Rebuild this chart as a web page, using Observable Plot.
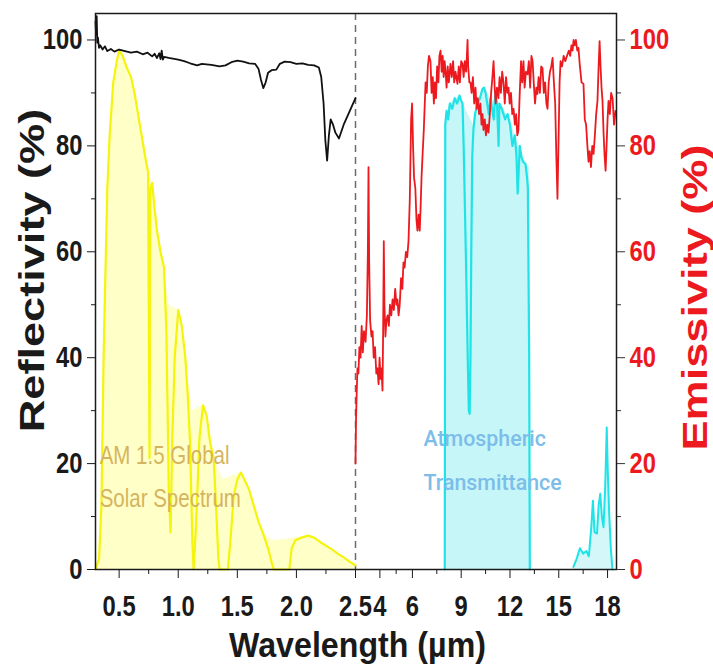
<!DOCTYPE html>
<html><head><meta charset="utf-8">
<script src="https://cdn.jsdelivr.net/npm/d3@7"></script>
<script src="https://cdn.jsdelivr.net/npm/@observablehq/plot@0.6"></script>
<style>html,body{margin:0;padding:0;background:#fff;} svg{display:block;}</style>
</head><body><div id="chart"></div>
<script>
// Reflectivity (black), 0.3–2.5 µm
const reflLambda = [0.30,0.305,0.31,0.315,0.32,0.33,0.34,0.36,0.38,0.40,0.43,0.46,0.50,0.55,0.60,0.65,0.70,0.74,0.78,0.80,0.82,0.84,0.85,0.86,0.87,0.88,0.92,1.00,1.05,1.10,1.16,1.20,1.28,1.35,1.40,1.45,1.50,1.55,1.60,1.65,1.68,1.70,1.72,1.74,1.76,1.79,1.83,1.86,1.90,1.95,2.00,2.05,2.10,2.15,2.19,2.21,2.23,2.245,2.26,2.275,2.29,2.31,2.33,2.36,2.40,2.45,2.50];
const reflValue  = [103.5,101,104.5,99.5,100.5,98.5,99,98.2,98.8,97.9,98.3,97.8,98.2,97.9,97.6,97.8,97.3,97.6,96.9,97.4,96.6,97.5,96.4,98.0,96.3,96.8,96.6,96.3,96.0,95.6,95.2,95.5,95.3,95.0,95.2,95.8,96.1,95.9,95.6,95.5,94.5,92.5,90.9,92.0,93.8,94.3,94.4,95.5,95.9,95.8,95.5,95.6,95.3,95.2,94.8,93.0,88.0,81.0,77.2,82.0,85.0,84.0,82.5,81.4,84.0,86.5,89.0];

// AM 1.5 global solar spectrum (normalised, %), 0.3–2.5 µm
const solarLambda = [0.30,0.33,0.35,0.37,0.40,0.42,0.45,0.48,0.50,0.53,0.56,0.60,0.63,0.66,0.69,0.72,0.745,0.757,0.765,0.78,0.80,0.82,0.85,0.88,0.90,0.92,0.935,0.95,0.97,1.00,1.03,1.06,1.08,1.10,1.12,1.13,1.15,1.18,1.21,1.24,1.27,1.30,1.32,1.34,1.35,1.42,1.44,1.47,1.50,1.53,1.56,1.60,1.64,1.68,1.72,1.76,1.80,1.81,1.94,1.96,1.99,2.04,2.10,2.15,2.20,2.25,2.30,2.35,2.40,2.45,2.50];
const solarValue  = [0,2,12,42,72,82,92,96,98,97,95,93,90,86,82,78,75,21,72,73,68,64,60,57,45,15,7,25,40,49,46,40,33,24,5,0,8,25,31,29,24,21,12,2,0,0,5,14,17,18.3,17,15,12,9,6.7,4,0.5,0,0,4,5.5,6,6.4,6,5.2,4.5,3.8,3,2.3,1.5,0.8];
// pale fill beneath the spectrum envelope
const solarFillLambda = [0.30,0.33,0.35,0.37,0.40,0.45,0.50,0.56,0.63,0.72,0.78,0.82,0.88,0.92,1.00,1.06,1.12,1.21,1.30,1.38,1.53,1.64,1.72,1.80,1.95,2.10,2.30,2.50];
const solarFillValue  = [0,2,12,42,72,92,98,95,90,78,73,64,57,50,49,40,30,31,21,17,18.3,12,6.7,5.5,5.8,6.4,3.8,0.8];

// Emissivity (red), 2.5–18.5 µm
const emisLambda = [2.50,2.53,2.57,2.62,2.68,2.74,2.81,2.88,2.95,3.02,3.12,3.20,3.26,3.30,3.34,3.40,3.48,3.55,3.62,3.70,3.78,3.85,3.92,3.98,4.04,4.10,4.16,4.20,4.24,4.28,4.34,4.40,4.47,4.55,4.62,4.70,4.78,4.86,4.94,5.02,5.08,5.15,5.22,5.30,5.38,5.45,5.52,5.60,5.68,5.76,5.84,5.92,5.98,6.04,6.10,6.18,6.25,6.31,6.38,6.45,6.50,6.56,6.62,6.70,6.76,6.81,6.88,6.95,7.02,7.11,7.18,7.25,7.32,7.38,7.45,7.52,7.60,7.66,7.73,7.80,7.86,7.92,7.98,8.04,8.10,8.17,8.24,8.34,8.42,8.50,8.57,8.65,8.77,8.85,8.92,9.00,9.08,9.15,9.22,9.30,9.35,9.39,9.43,9.50,9.57,9.64,9.72,9.80,9.88,9.95,10.02,10.10,10.18,10.25,10.31,10.37,10.45,10.52,10.60,10.68,10.76,10.84,10.92,10.99,11.06,11.12,11.20,11.29,11.36,11.44,11.52,11.60,11.68,11.76,11.84,11.91,11.98,12.06,12.14,12.22,12.30,12.38,12.45,12.52,12.60,12.68,12.75,12.83,12.90,12.98,13.08,13.16,13.24,13.32,13.39,13.46,13.54,13.62,13.69,13.76,13.84,13.92,14.00,14.08,14.16,14.24,14.31,14.38,14.46,14.54,14.62,14.70,14.78,14.85,14.92,14.98,15.05,15.11,15.20,15.30,15.40,15.54,15.62,15.70,15.78,15.85,15.91,15.98,16.05,16.14,16.21,16.30,16.40,16.52,16.60,16.68,16.76,16.83,16.90,16.98,17.06,17.14,17.22,17.30,17.38,17.45,17.51,17.57,17.63,17.69,17.76,17.82,17.88,17.94,18.00,18.06,18.14,18.22,18.31,18.40,18.49];
const emisValue  = [20,28,33,38,37,42,40,46,41,45,43,48,60,76,58,47,44,45,40,42,37,38,35,40,36,38,33.8,45,62,50,44,47,48,46,50,48,51,49,53,50,51,48,50,55,53,58,57,60,59,62,70,85,88,80,74,72,66,64,67,64,68,74,78,83,88,92,90,95,97,96,90,93,88,92,89,95,92,97,98,94,97,93,96,94,91,95,92,95.5,93,96,92,94,91.7,95,92,96,95.5,93,96,94,97,100,95,92,92,90,93,88,91,87,89,86,88,84,86,83,85,82,84,82.5,86,90,93,96,91,88,91,89,93,90,94,92,88,93,90,91,88,90,86,87,84,86,82,83,90,96,92,96,91,94,93.5,96,91,97,96,92,88,91,89.8,93,90,95,94.7,90,92,88,87,92,94,95,96.6,92,88,78,70,80,92,96,95,97,96,97.3,98,97,99,98,100,99,100,98,98.5,95,92,91.7,85,84,80,77,79,76,80,78.5,82,86,88.5,95,99.8,95,91,88.5,82,78,75.3,80,85,88.5,86,90,89,84,86.6];

// Atmospheric transmittance (cyan): 8–13 µm window and 16–18 µm band
const atmWindowLambda = [7.99,8.02,8.10,8.20,8.30,8.45,8.60,8.75,8.90,9.00,9.08,9.15,9.25,9.32,9.40,9.47,9.52,9.57,9.62,9.68,9.75,9.85,10.0,10.15,10.3,10.4,10.5,10.6,10.7,10.8,10.9,11.0,11.1,11.2,11.3,11.35,11.5,11.7,11.85,12.0,12.15,12.3,12.4,12.47,12.52,12.6,12.7,12.8,12.95,13.05,13.1,13.18,13.22];
const atmWindowValue  = [0,84,86.6,85,88,87,89,88,89.5,88.5,88,80,65,54,40,30,29.4,40,60,78,83,86,88,89,90.7,91,90,88,86,89,87,85,90,88,80,88,87,85,86,84,80,82,78,71,74,80,78,77,76.6,74,72,40,0];
const atmFillLambda = [7.99,8.02,8.30,8.90,9.08,9.40,9.75,10.0,10.4,10.8,11.5,12.0,12.4,12.8,13.1,13.21,13.22];
const atmFillValue  = [0,85,88,89.5,88.5,86,84,88,91,89,87.5,85,81,78,76,76,0];
const atmFarLambda = [15.9,16.1,16.3,16.5,16.7,16.85,17.0,17.1,17.2,17.35,17.45,17.55,17.65,17.75,17.85,17.95,18.02,18.1,18.2,18.3];
const atmFarValue  = [0.5,2,4,3,3.5,2.5,8,13,7,6.8,12,14.3,10,8,15,26.8,18,10.6,4,0];

// Axes
const xTicks = [0.5,1.0,1.5,2.0,2.5,4,6,9,12,15,18];
const xTickLabels = ["0.5","1.0","1.5","2.0","2.5","4","6","9","12","15","18"];
const xMinorTicks = [0.75,1.25,1.75,2.25,5,7.5,10.5,13.5,16.5];
const yTicks = [0,20,40,60,80,100];
const yMinorTicks = [10,30,50,70,90];
const xBreakDomain = [0.3, 2.5, 18.55];

// Annotations (positioned in data units)
const solarText = ["AM 1.5 Global","Solar Spectrum"];
const solarTextLambda = [0.335,0.335];
const solarTextValue = [21.5,13.4];
const atmText = ["Atmospheric","Transmittance"];
const atmTextLambda = [6.68,6.68];
const atmTextValue = [24.7,16.4];

const rows = (xs, ys) => xs.map((x, i) => ({x, y: ys[i]}));
const refl = rows(reflLambda, reflValue);
const solar = rows(solarLambda, solarValue);
const solarFill = rows(solarFillLambda, solarFillValue);
const emis = rows(emisLambda, emisValue);
const atmWin = rows(atmWindowLambda, atmWindowValue);
const atmFill = rows(atmFillLambda, atmFillValue);
const atmFar = rows(atmFarLambda, atmFarValue);
const solarLbl = solarText.map((t, i) => ({t, x: solarTextLambda[i], y: solarTextValue[i]}));
const atmLbl = atmText.map((t, i) => ({t, x: atmTextLambda[i], y: atmTextValue[i]}));

const RED = "#ec1a1f";
const FONT = "'Liberation Sans', Arial, sans-serif";

const plot = Plot.plot({
  width: 713,
  height: 670,
  marginLeft: 95,
  marginRight: 97,
  marginTop: 13,
  marginBottom: 101,
  style: {fontFamily: FONT, background: "#fff", overflow: "visible"},
  x: {type: "linear", domain: xBreakDomain, range: [95, 355, 616]},
  y: {type: "linear", domain: [0, 105]},
  marks: [
    Plot.areaY(solarFill, {x: "x", y: "y", fill: "#ffffc8"}),
    Plot.areaY(atmFill, {x: "x", y: "y", fill: "#c6f6f8"}),
    Plot.areaY(atmFar, {x: "x", y: "y", fill: "#d4f8f9"}),
    Plot.ruleX([2.5], {stroke: "#6b6b6b", strokeWidth: 1.5, strokeDasharray: "7,5"}),
    Plot.line(solar, {x: "x", y: "y", stroke: "#f4f40c", strokeWidth: 2.2}),
    Plot.line(atmWin, {x: "x", y: "y", stroke: "#1fe3e6", strokeWidth: 2.2}),
    Plot.line(atmFar, {x: "x", y: "y", stroke: "#1fe3e6", strokeWidth: 2}),
    Plot.line(refl, {x: "x", y: "y", stroke: "#111", strokeWidth: 1.8}),
    Plot.line(emis, {x: "x", y: "y", stroke: RED, strokeWidth: 1.8}),
    Plot.text(solarLbl, {x: "x", y: "y", text: "t", textAnchor: "start", fill: "#d6b45e", fontSize: 25}),
    Plot.text(atmLbl, {x: "x", y: "y", text: "t", textAnchor: "start", fill: "#7dbde9", fontSize: 23, fontWeight: 500, fontFamily: "Roboto, sans-serif"}),
    Plot.frame({stroke: "#1a1a1a", strokeWidth: 1.5}),
    Plot.axisX({ticks: xTicks, tickFormat: d => xTickLabels[xTicks.indexOf(d)], tickSize: 9, tickPadding: 17, fontSize: 29, fontWeight: "bold", stroke: "#1a1a1a", fill: "#1a1a1a", label: null}),
    Plot.axisX({ticks: xMinorTicks, tickSize: 5, fill: "none", stroke: "#1a1a1a", label: null}),
    Plot.axisY({anchor: "left", ticks: yTicks, tickSize: 8, tickPadding: 5, fontSize: 29, fontWeight: "bold", stroke: "#1a1a1a", fill: "#1a1a1a", label: null}),
    Plot.axisY({anchor: "left", ticks: yMinorTicks, tickSize: 4, fill: "none", stroke: "#1a1a1a", label: null}),
    Plot.axisY({anchor: "right", ticks: yTicks, tickSize: 8, tickPadding: 5, fontSize: 29, fontWeight: "bold", stroke: "#333", fill: RED, label: null}),
    Plot.axisY({anchor: "right", ticks: yMinorTicks, tickSize: 4, fill: "none", stroke: "#333", label: null}),
    Plot.text(["Wavelength (µm)"], {frameAnchor: "bottom", textAnchor: "middle", dx: 1.5, dy: 63, lineAnchor: "top", fontSize: 35, fontWeight: "bold", fill: "#1a1a1a"}),
    Plot.text(["Reflectivity (%)"], {frameAnchor: "left", textAnchor: "middle", lineAnchor: "middle", dx: -63, dy: -21, rotate: -90, fontSize: 35, fontWeight: "bold", fill: "#1a1a1a"}),
    Plot.text(["Emissivity (%)"], {frameAnchor: "right", textAnchor: "middle", lineAnchor: "middle", dx: 79, dy: 6, rotate: -90, fontSize: 35, fontWeight: "bold", fill: RED})
  ]
});
document.getElementById("chart").appendChild(plot);

// Emulate the tall, narrow lettering of the original figure
const groupSqueeze = {"x-axis tick label": 0.82, "y-axis tick label": 0.82};
const textSqueeze = {
  "AM 1.5 Global": 0.82, "Solar Spectrum": 0.82,
  "Atmospheric": 0.93, "Transmittance": 0.93,
  "Wavelength (µm)": 0.92, "Reflectivity (%)": 1.29, "Emissivity (%)": 1.29
};
d3.select(plot).selectAll("text").each(function() {
  const g = this.closest("g[aria-label]");
  const lab = g ? g.getAttribute("aria-label") : "";
  const s = groupSqueeze[lab] ?? textSqueeze[this.textContent];
  if (s) {
    const t = this.getAttribute("transform") || "";
    this.setAttribute("transform", `${t} scale(${s},1)`);
  }
});
</script></body></html>
